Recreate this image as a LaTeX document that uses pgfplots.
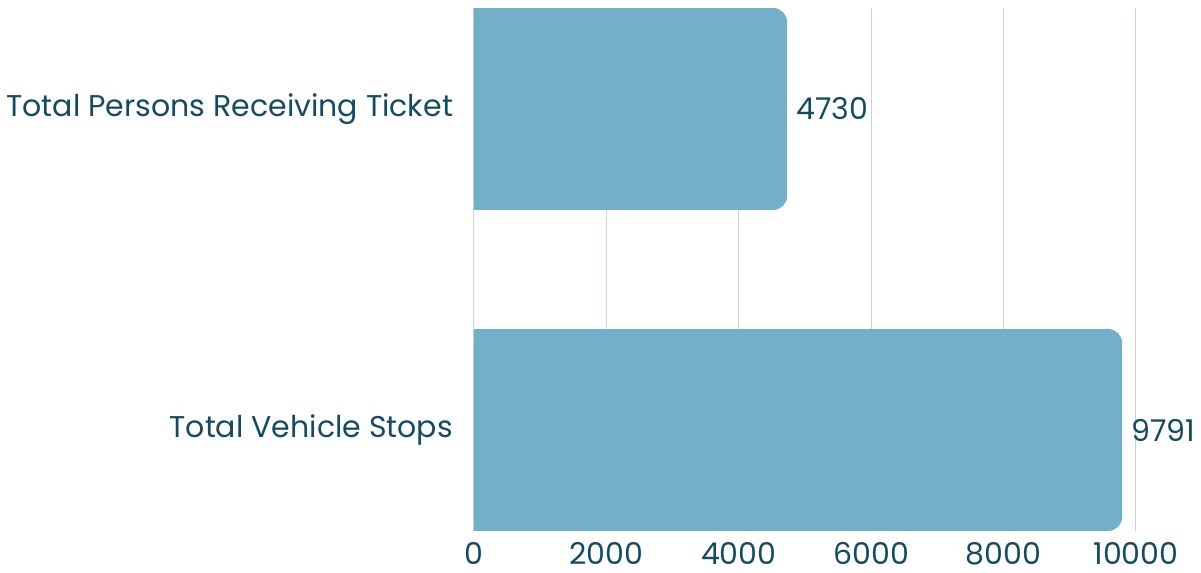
\documentclass[border=0pt]{standalone}
\usepackage{fontspec}
\setmainfont{Poppins}
\usepackage{pgfplots}
\pgfplotsset{compat=1.18}
\definecolor{barblue}{HTML}{72B0C9}
\definecolor{txt}{HTML}{134B63}
\definecolor{gridc}{HTML}{C9D3DD}
\begin{document}
\begin{tikzpicture}
\begin{axis}[
  at={(0,0)}, anchor=south west,
  scale only axis,
  width=331pt, height=261.5pt,
  xmin=0, xmax=10000,
  ymin=-0.3146, ymax=1.3146,
  xbar, bar width=0.629, bar shift=0pt,
  axis line style={draw=none},
  xmajorgrids, major grid style={gridc, line width=0.5pt},
  xtick={0,2000,...,10000},
  scaled x ticks=false,
  ytick={0,1},
  yticklabels={Total Vehicle Stops, Total Persons Receiving Ticket},
  major tick length=0pt,
  tick label style={font=\fontsize{15}{18}\selectfont, text=txt},
  /pgf/number format/assume math mode=true,
  /pgf/number format/1000 sep={},
  xticklabel style={yshift=-2pt},
  yticklabel style={xshift=-7pt},
  nodes near coords style={font=\fontsize{15}{18}\selectfont, text=txt, xshift=1pt},
]
% square part of the bars (left end)
\addplot[fill=barblue, draw=none, bar shift=0pt]
  coordinates {(4130,1) (9191,0)};
% full bars with rounded right end
\addplot[fill=barblue, draw=none, bar shift=0pt, rounded corners=7pt, nodes near coords]
  coordinates {(4730,1) (9791,0)};
\end{axis}
\pgfresetboundingbox
\useasboundingbox (-237pt,-21pt) rectangle (363.5pt,265.5pt);
\end{tikzpicture}
\end{document}
